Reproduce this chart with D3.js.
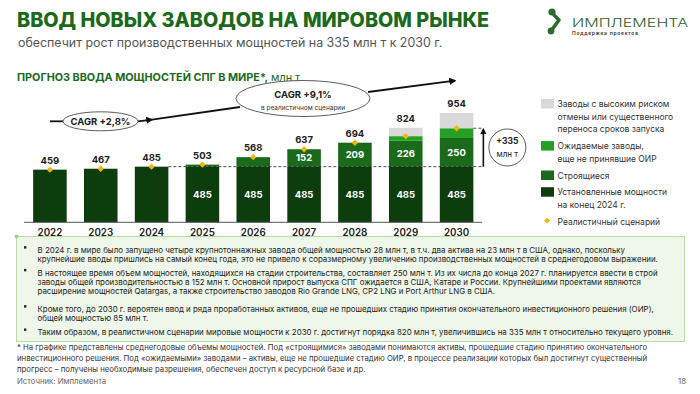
<!DOCTYPE html>
<html>
<head>
<meta charset="utf-8">
<script src="https://cdn.jsdelivr.net/npm/d3@7"></script>
<style>
  body { margin: 0; background: #fff; }
  svg { display: block; font-family: Inter, "Noto Sans", sans-serif; }
</style>
</head>
<body>
<div id="chart"></div>
<script>
// data
var years = [2022, 2023, 2024, 2025, 2026, 2027, 2028, 2029, 2030];
var installed = [459, 467, 485, 485, 485, 485, 485, 485, 485];
var construction = [0, 0, 0, 18, 83, 152, 209, 226, 250];
var expected = [0, 0, 0, 0, 0, 0, 0, 40, 85];
var highRisk = [0, 0, 0, 0, 0, 0, 0, 73, 134];
var totals = [459, 467, 485, 503, 568, 637, 694, 824, 954];

var baseLevel = 485, realistic2030 = 820;

var legendItems = [
  {key: "risk", lines: ["Заводы с высоким риском", "отмены или существенного", "переноса сроков запуска"]},
  {key: "expected", lines: ["Ожидаемые заводы,", "еще не принявшие ОИР"]},
  {key: "construction", lines: ["Строящиеся"]},
  {key: "installed", lines: ["Установленные мощности", "на конец 2024 г."]},
  {key: "marker", lines: ["Реалистичный сценарий"]}
];

var bullets = [
  ["В 2024 г. в мире было запущено четыре крупнотоннажных завода общей мощностью 28 млн т, в т.ч. два актива на 23 млн т в США, однако, поскольку",
   "крупнейшие вводы пришлись на самый конец года, это не привело к соразмерному увеличению производственных мощностей в среднегодовом выражении."],
  ["В настоящее время объем мощностей, находящихся на стадии строительства, составляет 250 млн т. Из их числа до конца 2027 г. планируется ввести в строй",
   "заводы общей производительностью в 152 млн т. Основной прирост выпуска СПГ ожидается в США, Катаре и России. Крупнейшими проектами являются",
   "расширение мощностей Qatargas, а также строительство заводов Rio Grande LNG, CP2 LNG и Port Arthur LNG в США."],
  ["Кроме того, до 2030 г. вероятен ввод и ряда проработанных активов, еще не прошедших стадию принятия окончательного инвестиционного решения (ОИР),",
   "общей мощностью 85 млн т."],
  ["Таким образом, в реалистичном сценарии мировые мощности к 2030 г. достигнут порядка 820 млн т, увеличившись на 335 млн т относительно текущего уровня."]
];

var footnote = [
  "* На графике представлены среднегодовые объемы мощностей. Под «строящимися» заводами понимаются активы, прошедшие стадию принятию окончательного",
  "инвестиционного решения. Под «ожидаемыми» заводами – активы, еще не прошедшие стадию ОИР, в процессе реализации которых был достигнут существенный",
  "прогресс – получены необходимые разрешения, обеспечен доступ к ресурсной базе и др."
];

var color = {
  risk: "#d9d9d9",
  expected: "#25a024",
  construction: "#1b691b",
  installed: "#0d3c0d",
  marker: "#f0b70a"
};
var green = "#1b6a1b";

var W = 700, H = 394;
var svg = d3.select("#chart").append("svg")
  .attr("width", W).attr("height", H);

svg.append("rect").attr("width", W).attr("height", H).attr("fill", "#fff");

var defs = svg.append("defs");
defs.append("marker").attr("id", "arr")
  .attr("viewBox", "0 0 10 10").attr("refX", 8).attr("refY", 5)
  .attr("markerWidth", 4).attr("markerHeight", 4).attr("orient", "auto")
  .append("path").attr("d", "M0,0L10,5L0,10z").attr("fill", "#111");

// titles
svg.append("text").attr("x", 17).attr("y", 27)
  .attr("font-size", 19.8).attr("font-weight", 800).attr("fill", green)
  .text("ВВОД НОВЫХ ЗАВОДОВ НА МИРОВОМ РЫНКЕ");
svg.append("text").attr("x", 18).attr("y", 47)
  .attr("font-size", 12.4).attr("fill", "#555")
  .text("обеспечит рост производственных мощностей на 335 млн т к 2030 г.");

var sub = svg.append("text").attr("x", 17).attr("y", 81)
  .attr("font-size", 10.8).attr("fill", green);
sub.append("tspan").attr("font-weight", 700).text("ПРОГНОЗ ВВОДА МОЩНОСТЕЙ СПГ В МИРЕ*,");
sub.append("tspan").text(" млн т");

// logo
var logo = svg.append("g").attr("fill", "#2f6a2f").attr("stroke", "#2f6a2f");
logo.append("circle").attr("cx", 552).attr("cy", 12).attr("r", 3.6).attr("stroke", "none");
logo.append("path").attr("d", "M554,15L559,20L551,31").attr("fill", "none")
  .attr("stroke-width", 3.6).attr("stroke-linecap", "round").attr("stroke-linejoin", "round");
logo.append("circle").attr("cx", 551).attr("cy", 31).attr("r", 3.4).attr("stroke", "none");
svg.append("text").attr("x", 572).attr("y", 26.5)
  .attr("font-size", 11.5).attr("font-weight", 300).attr("fill", "#2f5f2f")
  .attr("textLength", 116).attr("lengthAdjust", "spacingAndGlyphs")
  .text("ИМПЛЕМЕНТА");
svg.append("text").attr("x", 572).attr("y", 35)
  .attr("font-size", 5).attr("font-weight", 600).attr("fill", "#333")
  .attr("textLength", 66).attr("lengthAdjust", "spacing")
  .text("Поддержка проектов");

// scales
var x = d3.scaleBand().domain(years).range([24.5, 482])
  .paddingInner(0.34).paddingOuter(0.17);
var y = d3.scaleLinear().domain([0, 1000]).range([222.3, 107.6]);
var bw = x.bandwidth();

var rows = years.map(function (yr, i) {
  return {year: yr, installed: installed[i], construction: construction[i],
          expected: expected[i], risk: highRisk[i]};
});
var stack = d3.stack().keys(["installed", "construction", "expected", "risk"])(rows);

svg.append("g").selectAll("g").data(stack).enter().append("g")
  .attr("fill", function (s) { return color[s.key]; })
  .selectAll("rect").data(function (s) { return s; }).enter().append("rect")
  .attr("x", function (d) { return x(d.data.year); })
  .attr("width", bw)
  .attr("y", function (d) { return y(d[1]); })
  .attr("height", function (d) { return y(d[0]) - y(d[1]); });

// axis
var xAxis = svg.append("g").attr("transform", "translate(0," + y(0) + ")")
  .call(d3.axisBottom(x).tickSize(0).tickPadding(6.5));
xAxis.select(".domain").attr("stroke", "#555").attr("d", "M24,0H482");
xAxis.selectAll("text").attr("font-family", "Inter, sans-serif")
  .attr("font-size", 9.8).attr("font-weight", 600).attr("fill", "#222");

// dashed reference lines + arrow
var xr = x(2030) + bw + 10;
svg.append("line").attr("x1", x(2024) + bw).attr("x2", xr)
  .attr("y1", y(baseLevel)).attr("y2", y(baseLevel))
  .attr("stroke", "#222").attr("stroke-width", 0.8).attr("stroke-dasharray", "3,2");
svg.append("line").attr("x1", x(2030) + bw).attr("x2", xr)
  .attr("y1", y(realistic2030)).attr("y2", y(realistic2030))
  .attr("stroke", "#222").attr("stroke-width", 0.8).attr("stroke-dasharray", "3,2");
svg.append("line").attr("x1", xr).attr("x2", xr)
  .attr("y1", y(baseLevel)).attr("y2", y(realistic2030) + 1)
  .attr("stroke", "#111").attr("stroke-width", 1.6).attr("marker-end", "url(#arr)");
svg.append("circle").attr("cx", xr + 24).attr("cy", (y(baseLevel) + y(realistic2030)) / 2)
  .attr("r", 18.5).attr("fill", "#fff").attr("stroke", "#333").attr("stroke-width", 0.8);
svg.append("text").attr("x", xr + 24).attr("y", (y(baseLevel) + y(realistic2030)) / 2 - 3)
  .attr("text-anchor", "middle").attr("font-size", 8.5).attr("font-weight", 700).attr("fill", "#222")
  .text("+335");
svg.append("text").attr("x", xr + 24).attr("y", (y(baseLevel) + y(realistic2030)) / 2 + 10)
  .attr("text-anchor", "middle").attr("font-size", 8).attr("fill", "#222")
  .text("млн т");

// value labels
svg.append("g").selectAll("text").data(years).enter().append("text")
  .attr("x", function (d) { return x(d) + bw / 2; })
  .attr("y", function (d, i) { return y(totals[i]) - 6; })
  .attr("text-anchor", "middle").attr("font-size", 9.5).attr("font-weight", 700).attr("fill", "#222")
  .text(function (d, i) { return totals[i]; });

svg.append("g").selectAll("text").data(years.filter(function (d) { return d >= 2025; }))
  .enter().append("text")
  .attr("x", function (d) { return x(d) + bw / 2; })
  .attr("y", y(baseLevel / 2) + 3.5)
  .attr("text-anchor", "middle").attr("font-size", 9.5).attr("font-weight", 700).attr("fill", "#fff")
  .text(baseLevel);

svg.append("g").selectAll("text")
  .data(years.map(function (d, i) { return i; }).filter(function (i) { return construction[i] >= 100; }))
  .enter().append("text")
  .attr("x", function (i) { return x(years[i]) + bw / 2; })
  .attr("y", function (i) { return y(installed[i] + construction[i] / 2) + 3.5; })
  .attr("text-anchor", "middle").attr("font-size", 9.5).attr("font-weight", 700).attr("fill", "#fff")
  .text(function (i) { return construction[i]; });

// realistic scenario markers
svg.append("g").selectAll("path").data(years).enter().append("path")
  .attr("d", d3.symbol().type(d3.symbolDiamond2).size(26))
  .attr("transform", function (d, i) {
    return "translate(" + (x(d) + bw / 2) + "," + y(installed[i] + construction[i] + expected[i]) + ")";
  })
  .attr("fill", color.marker);

// CAGR arrows
var cg = svg.append("g").attr("stroke", "#111").attr("stroke-width", 1.8).attr("fill", "none");
cg.append("line").attr("x1", 50).attr("y1", 121.3).attr("x2", 63).attr("y2", 121.3);
cg.append("line").attr("x1", 138).attr("y1", 121.3).attr("x2", 152).attr("y2", 119.6)
  .attr("marker-end", "url(#arr)");
cg.append("line").attr("x1", 152).attr("y1", 119.6).attr("x2", 240).attr("y2", 107);
cg.append("line").attr("x1", 368).attr("y1", 92).attr("x2", 455).attr("y2", 80.6)
  .attr("marker-end", "url(#arr)");

svg.append("ellipse").attr("cx", 100.5).attr("cy", 121.3).attr("rx", 37.5).attr("ry", 9.5)
  .attr("fill", "#fff").attr("stroke", "#333").attr("stroke-width", 0.8);
svg.append("text").attr("x", 100.5).attr("y", 124.6).attr("text-anchor", "middle")
  .attr("font-size", 9.5).attr("font-weight", 700).attr("fill", "#222").text("CAGR +2,8%");

svg.append("ellipse").attr("cx", 303).attr("cy", 98.5).attr("rx", 67).attr("ry", 18)
  .attr("fill", "#fff").attr("stroke", "#333").attr("stroke-width", 0.8);
svg.append("text").attr("x", 303).attr("y", 98).attr("text-anchor", "middle")
  .attr("font-size", 9.5).attr("font-weight", 700).attr("fill", "#222").text("CAGR +9,1%");
svg.append("text").attr("x", 303).attr("y", 109.5).attr("text-anchor", "middle")
  .attr("font-size", 6.5).attr("fill", "#333").text("в реалистичном сценарии");

// legend
var ly = 104;
var lg = svg.append("g").attr("font-size", 8.5).attr("fill", "#333");
legendItems.forEach(function (it) {
  if (it.key === "marker") {
    lg.append("path").attr("d", d3.symbol().type(d3.symbolDiamond2).size(22))
      .attr("transform", "translate(547," + (ly - 1) + ")").attr("fill", color.marker);
  } else {
    lg.append("rect").attr("x", 541).attr("y", ly - 5).attr("width", 13).attr("height", 9.5)
      .attr("fill", color[it.key]);
  }
  it.lines.forEach(function (t, j) {
    lg.append("text").attr("x", 557.5).attr("y", ly + 3 + j * 12.7).text(t);
  });
  ly += (it.lines.length - 1) * 12.7 + 16.7;
});

// comment box
svg.append("rect").attr("x", 16.5).attr("y", 236.5).attr("width", 668).attr("height", 105)
  .attr("fill", "#eef7ea").attr("stroke", "#b7dca8").attr("stroke-width", 1);
svg.append("circle").attr("cx", 16.5).attr("cy", 236.5).attr("r", 2).attr("fill", "#9fd08f");

var bulletY = [250, 272.7, 309, 332.3];
var bg = svg.append("g").attr("font-size", 7.9).attr("fill", "#222");
bullets.forEach(function (lines, i) {
  bg.append("rect").attr("x", 24).attr("y", bulletY[i] - 3.8).attr("width", 2.4).attr("height", 2.4)
    .attr("fill", "#222");
  lines.forEach(function (t, j) {
    bg.append("text").attr("x", 37.5).attr("y", bulletY[i] + 2.8 + j * 9.3).text(t);
  });
});

// footnote
var fg = svg.append("g").attr("font-size", 7.75).attr("fill", "#333");
footnote.forEach(function (t, j) {
  fg.append("text").attr("x", 17).attr("y", 350 + j * 11).text(t);
});
fg.append("text").attr("x", 17).attr("y", 384).attr("fill", "#666").text("Источник: Имплемента");
fg.append("text").attr("x", 686).attr("y", 384).attr("fill", "#666").attr("text-anchor", "end").text("18");
</script>
</body>
</html>
